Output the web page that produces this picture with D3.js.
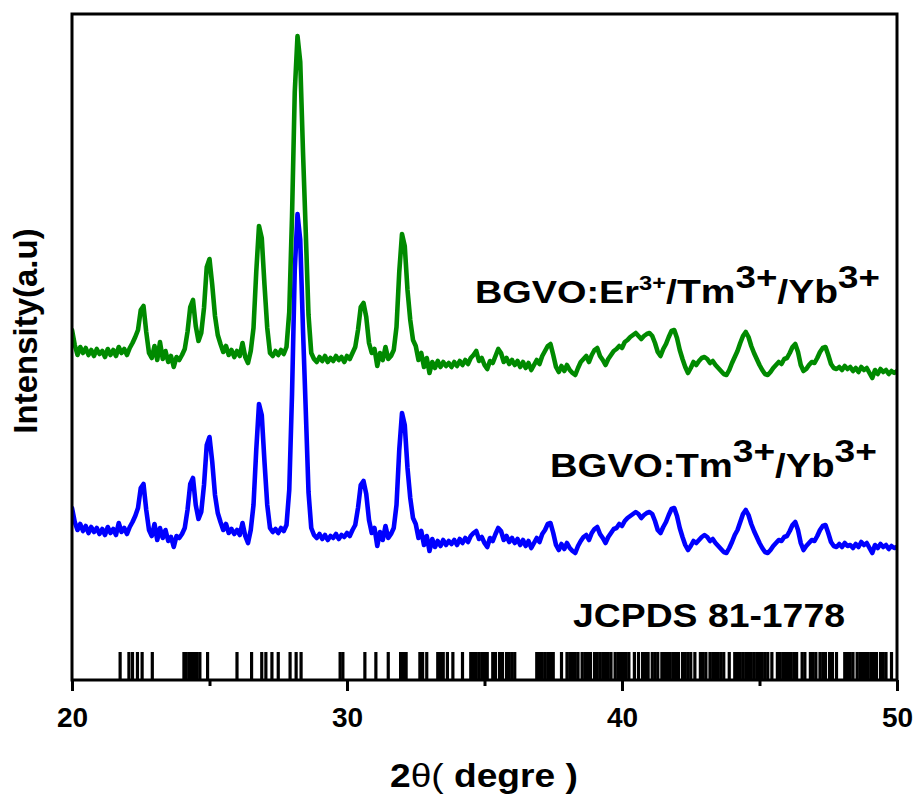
<!DOCTYPE html>
<html><head><meta charset="utf-8">
<script src="https://cdn.jsdelivr.net/npm/d3@7/dist/d3.min.js"></script>
<style>
body{margin:0;background:#fff}
text{font-family:Arial,"Liberation Sans",Helvetica,sans-serif;font-weight:bold;fill:#000}
</style>
</head><body>
<svg id="c" width="919" height="800"></svg>
<script>
// ---- data ----
const angleStart = 20, angleStep = 0.1;   // 2θ sampling grid, 20.0 … 50.0
const blueVals = [
172,158,150,156,149,154,147,153,148,152,
146,151,145,153,147,151,145,157,148,152,
146,153,158,164,172,192,196,170,150,144,
156,140,152,142,150,139,143,133,144,142,
146,152,170,196,202,175,161,168,195,235,
243,218,185,167,158,150,156,147,151,146,
150,145,157,144,137,150,175,230,276,265,
218,175,152,148,151,147,152,149,155,190,
285,410,466,440,350,270,188,152,145,142,
146,141,145,140,144,142,146,141,145,143,
147,144,150,155,172,195,199,186,160,147,
152,134,148,140,154,142,146,152,175,230,
267,255,212,182,162,156,142,149,135,144,
129,141,133,139,134,140,135,139,136,140,
135,141,137,142,138,144,147,149,141,143,
137,133,142,139,146,152,149,140,144,138,
142,137,141,135,140,134,139,132,137,142,
138,146,150,156,157,147,135,130,136,131,
137,132,129,127,134,139,143,145,140,147,
151,153,146,142,137,143,147,151,152,156,
154,159,162,164,166,168,166,162,165,167,
168,166,159,150,147,153,158,165,171,172,
164,152,143,135,130,134,139,137,140,143,
145,143,139,141,137,134,131,128,127,132,
138,145,150,158,166,170,165,156,149,143,
137,132,128,127,130,134,137,140,139,143,
144,149,155,158,150,137,130,134,137,140,
139,144,150,154,155,147,138,134,133,136,
133,137,134,135,132,136,133,138,135,137,
132,127,135,132,136,133,135,131,134,132,
133];
const greenVals = [
350,335,325,333,327,332,325,330,324,331,
326,329,323,331,325,330,324,333,327,331,
325,332,337,343,350,370,374,348,327,322,
334,320,338,321,329,318,324,313,323,320,
325,331,348,373,380,354,339,347,372,413,
421,395,364,345,336,328,334,325,330,323,
329,324,337,323,317,329,352,408,454,442,
395,352,327,324,329,325,330,326,333,368,
463,588,644,618,528,448,365,327,321,318,
323,319,324,318,322,319,324,320,323,318,
324,321,327,333,350,373,377,363,337,327,
331,314,327,320,333,321,324,330,353,408,
446,434,390,360,340,334,320,327,313,322,
307,318,312,319,313,318,314,317,313,318,
314,319,315,320,316,322,325,329,319,322,
315,311,319,317,324,331,327,318,322,316,
320,315,319,313,318,312,317,310,315,320,
316,324,329,334,336,325,313,308,314,309,
315,310,307,305,312,318,321,324,318,325,
330,332,324,320,315,321,325,329,331,334,
332,338,340,343,345,347,344,341,344,346,
347,344,337,328,324,331,336,343,349,350,
342,330,321,313,307,312,318,315,319,322,
323,321,317,319,315,312,309,306,305,310,
317,323,329,337,344,348,343,334,327,321,
315,310,306,305,308,312,315,318,316,321,
322,327,333,336,328,315,309,311,315,318,
317,322,328,332,333,325,316,312,311,313,
310,314,311,313,309,312,308,313,310,312,
307,302,310,306,311,308,310,306,309,307,
309];
const jcpdsLines = [
21.75,22.07,22.2,22.38,22.55,22.92,
24.07,24.15,24.25,24.35,24.45,24.55,24.65,24.93,
26.0,26.53,26.9,27.05,27.27,27.5,27.93,28.15,28.33,
29.75,29.85,30.65,31.05,31.5,31.95,32.05,32.15,
32.65,32.75,32.9,33.3,33.4,33.5,33.65,33.85,34.2,
34.5,34.6,34.7,34.8,34.9,35.0,35.1,35.3,35.4,35.55,35.65,35.8,35.9,36.0,36.1,
36.9,37.0,37.1,37.2,37.3,37.4,37.5,37.8,38.0,38.1,38.2,38.3,38.4,38.55,38.65,38.75,38.85,
39.0,39.1,39.2,39.3,39.4,39.5,39.6,39.75,39.85,39.95,40.05,40.15,40.25,
40.45,40.6,40.75,40.85,40.95,41.1,41.2,41.3,41.45,41.55,41.65,41.75,41.85,41.95,42.05,
42.2,42.3,42.4,42.5,42.65,42.85,42.95,43.05,43.2,43.3,43.4,43.5,43.6,43.7,43.9,
44.1,44.2,44.3,44.4,44.5,44.6,44.7,44.8,44.9,45.0,45.1,45.2,45.3,45.45,
45.65,45.75,45.85,45.95,46.05,46.15,46.25,46.35,46.55,46.65,46.85,46.95,47.05,47.2,47.3,47.4,47.55,47.65,47.8,
48.1,48.2,48.3,48.4,48.55,48.65,48.75,48.85,48.95,49.05,49.15,49.25,49.4,49.5,49.6,49.8];
const jcpdsHeight = 28;
const xTicks = [20, 30, 40, 50];
const xMinorTicks = [25, 35, 45];
const xDomain = [20, 50];
const yDomain = [0, 666];

// ---- chart ----
const svg = d3.select("#c");
const x = d3.scaleLinear().domain(xDomain).range([72, 897]);
const y = d3.scaleLinear().domain(yDomain).range([680, 14]);

svg.append("defs").append("clipPath").attr("id","clip")
  .append("rect").attr("x",72).attr("y",14).attr("width",825).attr("height",666);

const plot = svg.append("g").attr("clip-path","url(#clip)");

// reference lines
plot.append("g").selectAll("line").data(jcpdsLines).join("line")
  .attr("x1", d => x(d)).attr("x2", d => x(d))
  .attr("y1", y(0)).attr("y2", y(jcpdsHeight))
  .attr("stroke", "#000").attr("stroke-width", 3.2);

const line = d3.line()
  .x((d, i) => x(angleStart + i * angleStep))
  .y(d => y(d));

plot.append("path").datum(blueVals).attr("d", line)
  .attr("fill","none").attr("stroke","#0000ff").attr("stroke-width",4.6)
  .attr("stroke-linejoin","round").attr("stroke-linecap","round");
plot.append("path").datum(greenVals).attr("d", line)
  .attr("fill","none").attr("stroke","#008a00").attr("stroke-width",4.6)
  .attr("stroke-linejoin","round").attr("stroke-linecap","round");

// frame
svg.append("rect").attr("x",72).attr("y",14).attr("width",825).attr("height",666)
  .attr("fill","none").attr("stroke","#000").attr("stroke-width",3);

// axes
const ax = svg.append("g").attr("transform","translate(0,680)")
  .call(d3.axisBottom(x).tickValues(xTicks).tickSize(11).tickFormat(d3.format("d")));
ax.select(".domain").remove();
ax.selectAll(".tick line").attr("stroke","#000").attr("stroke-width",3);
ax.selectAll(".tick text").attr("y",47).attr("dy",0)
  .style("font-size","28px").style("font-family","Arial, 'Liberation Sans', sans-serif").style("font-weight","bold");

const axm = svg.append("g").attr("transform","translate(0,680)")
  .call(d3.axisBottom(x).tickValues(xMinorTicks).tickSize(6).tickFormat(""));
axm.select(".domain").remove();
axm.selectAll(".tick line").attr("stroke","#000").attr("stroke-width",3);

// fit helper: stretch text horizontally to a target width
function fit(sel, target, ax0) {
  const bb = sel.node().getBBox();
  const s = target / bb.width;
  sel.attr("transform", `translate(${ax0},0) scale(${s},1) translate(${-ax0},0)`);
}

// labels
const erLab = svg.append("text").attr("x",475).attr("y",303).style("font-size","32px");
erLab.append("tspan").text("BGVO:Er");
erLab.append("tspan").attr("dy",-13).style("font-size","20px").text("3+");
erLab.append("tspan").attr("dy",13).style("font-size","33px").text("/Tm");
erLab.append("tspan").attr("dy",-15).style("font-size","31px").text("3+");
erLab.append("tspan").attr("dy",15).style("font-size","33px").text("/Yb");
erLab.append("tspan").attr("dy",-15).style("font-size","31px").text("3+");
fit(erLab, 405, 475);

const tmLab = svg.append("text").attr("x",550).attr("y",477).style("font-size","33px");
tmLab.append("tspan").text("BGVO:Tm");
tmLab.append("tspan").attr("dy",-15).style("font-size","32px").text("3+");
tmLab.append("tspan").attr("dy",15).text("/Yb");
tmLab.append("tspan").attr("dy",-15).style("font-size","32px").text("3+");
fit(tmLab, 327, 550);

const jLab = svg.append("text").attr("x",573).attr("y",627).style("font-size","33px").text("JCPDS 81-1778");
fit(jLab, 272, 573);

const xt = svg.append("text").attr("x",390).attr("y",787).style("font-size","33px");
xt.append("tspan").text("2");
xt.append("tspan").style("font-weight","normal").text("θ(");
xt.append("tspan").text(" degre )");
fit(xt, 188, 390);

svg.append("text").attr("transform","translate(37,331) rotate(-90)")
  .attr("text-anchor","middle").style("font-size","33px").text("Intensity(a.u)");
</script>
</body></html>
